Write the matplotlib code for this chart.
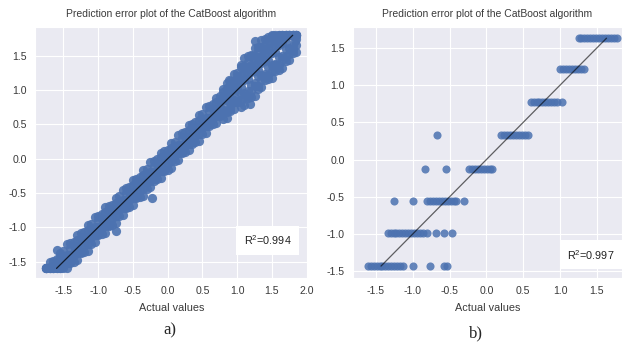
import matplotlib
matplotlib.use("Agg")
import matplotlib.pyplot as plt
import seaborn as sns
import numpy as np

# ---------------- data: panel a (dense cloud along the diagonal) ----------------
actual_a = [-1.75, -1.70, -1.65, -1.60, -1.55, -1.50, -1.45, -1.40, -1.35, -1.30,
            -1.25, -1.20, -1.15, -1.10, -1.05, -1.00, -0.95, -0.90, -0.85, -0.80,
            -0.75, -0.70, -0.65, -0.60, -0.55, -0.50, -0.45, -0.40, -0.35, -0.30,
            -0.25, -0.20, -0.15, -0.10, -0.05, 0.00, 0.05, 0.10, 0.15, 0.20,
            0.25, 0.30, 0.35, 0.40, 0.45, 0.50, 0.55, 0.60, 0.65, 0.70,
            0.75, 0.80, 0.85, 0.90, 0.95, 1.00, 1.05, 1.10, 1.15, 1.20,
            1.25, 1.30, 1.35, 1.40, 1.45, 1.50, 1.55, 1.60, 1.65, 1.70,
            1.75, 1.80, 1.85]

pred_a_row1 = [-1.60, -1.60, -1.60, -1.60, -1.60, -1.60, -1.60, -1.52, -1.50, -1.48,
               -1.38, -1.36, -1.34, -1.24, -1.22, -1.12, -1.10, -1.08, -0.98, -0.96,
               -0.94, -0.84, -0.82, -0.72, -0.70, -0.68, -0.58, -0.56, -0.54, -0.44,
               -0.42, -0.32, -0.30, -0.28, -0.18, -0.16, -0.14, -0.04, -0.02, 0.08,
               0.10, 0.12, 0.22, 0.24, 0.26, 0.36, 0.38, 0.48, 0.50, 0.52,
               0.62, 0.58, 0.60, 0.70, 0.72, 0.82, 0.76, 0.78, 0.88, 0.90,
               0.92, 1.02, 1.04, 1.14, 1.16, 1.18, 1.28, 1.30, 1.32, 1.42,
               1.44, 1.54, 1.56]
pred_a_row2 = [-1.60, -1.60, -1.60, -1.60, -1.60, -1.54, -1.52, -1.50, -1.40, -1.38,
               -1.36, -1.26, -1.24, -1.14, -1.12, -1.10, -1.00, -0.98, -0.96, -0.86,
               -0.84, -0.74, -0.72, -0.70, -0.60, -0.58, -0.56, -0.46, -0.44, -0.34,
               -0.32, -0.30, -0.20, -0.18, -0.16, -0.06, -0.04, 0.06, 0.08, 0.10,
               0.20, 0.22, 0.24, 0.34, 0.36, 0.46, 0.48, 0.50, 0.60, 0.62,
               0.64, 0.71, 0.73, 0.83, 0.85, 0.87, 0.94, 0.96, 0.98, 1.08,
               1.10, 1.20, 1.22, 1.24, 1.34, 1.36, 1.38, 1.48, 1.50, 1.60,
               1.62, 1.64, 1.74]
pred_a_row3 = [-1.60, -1.60, -1.60, -1.56, -1.54, -1.52, -1.42, -1.40, -1.38, -1.28,
               -1.26, -1.16, -1.14, -1.12, -1.02, -1.00, -0.98, -0.88, -0.86, -0.76,
               -0.74, -0.72, -0.62, -0.60, -0.58, -0.48, -0.46, -0.36, -0.34, -0.32,
               -0.22, -0.20, -0.18, -0.08, -0.06, 0.04, 0.06, 0.08, 0.18, 0.20,
               0.22, 0.32, 0.34, 0.44, 0.46, 0.48, 0.58, 0.60, 0.62, 0.72,
               0.74, 0.84, 0.86, 0.88, 0.98, 1.00, 1.04, 1.14, 1.16, 1.26,
               1.28, 1.30, 1.40, 1.42, 1.44, 1.54, 1.56, 1.66, 1.68, 1.70,
               1.80, 1.80, 1.80]
pred_a_row4 = [-1.60, -1.58, -1.56, -1.54, -1.44, -1.42, -1.40, -1.30, -1.28, -1.18,
               -1.16, -1.14, -1.04, -1.02, -1.00, -0.90, -0.88, -0.78, -0.76, -0.74,
               -0.64, -0.62, -0.60, -0.50, -0.48, -0.38, -0.36, -0.34, -0.24, -0.22,
               -0.20, -0.10, -0.08, 0.02, 0.04, 0.06, 0.16, 0.18, 0.20, 0.30,
               0.32, 0.42, 0.44, 0.46, 0.56, 0.58, 0.60, 0.70, 0.72, 0.82,
               0.84, 0.90, 1.00, 1.02, 1.04, 1.14, 1.22, 1.32, 1.34, 1.36,
               1.46, 1.48, 1.50, 1.60, 1.62, 1.72, 1.74, 1.76, 1.80, 1.80,
               1.80, 1.80, 1.80]
pred_a_row5 = [-1.60, -1.51, -1.49, -1.47, -1.37, -1.35, -1.25, -1.23, -1.21, -1.11,
               -1.09, -1.07, -0.97, -0.95, -0.85, -0.83, -0.81, -0.71, -0.69, -0.67,
               -0.57, -0.55, -0.45, -0.43, -0.41, -0.31, -0.29, -0.27, -0.17, -0.15,
               -0.05, -0.03, -0.01, 0.09, 0.11, 0.13, 0.23, 0.25, 0.35, 0.37,
               0.39, 0.49, 0.51, 0.53, 0.63, 0.65, 0.75, 0.77, 0.79, 0.89,
               0.91, 1.01, 1.11, 1.13, 1.23, 1.25, 1.37, 1.47, 1.49, 1.51,
               1.61, 1.63, 1.73, 1.75, 1.77, 1.80, 1.80, 1.80, 1.80, 1.80,
               1.80, 1.80, 1.80]

# extra rows for the wider upper part of the cloud
actual_a_top = [0.80, 0.85, 0.90, 0.95, 1.00, 1.05, 1.10, 1.15, 1.20, 1.25, 1.30,
                1.35, 1.40, 1.45, 1.50, 1.55, 1.60, 1.65, 1.70, 1.75, 1.80, 1.85]
pred_a_top_row1 = [0.66, 0.68, 0.74, 0.82, 0.82, 0.84, 0.90, 0.92, 0.98, 1.06, 1.06,
                   1.14, 1.20, 1.22, 1.28, 1.36, 1.36, 1.44, 1.50, 1.52, 1.58, 1.66]
pred_a_top_row2 = [0.89, 0.89, 0.97, 1.03, 1.05, 1.15, 1.23, 1.23, 1.31, 1.37, 1.39,
                   1.45, 1.53, 1.53, 1.61, 1.67, 1.69, 1.75, 1.80, 1.80, 1.80, 1.80]
pred_a_top_row3 = [0.97, 1.03, 1.11, 1.11, 1.19, 1.33, 1.35, 1.41, 1.49, 1.49, 1.57,
                   1.63, 1.65, 1.71, 1.79, 1.79, 1.80, 1.80, 1.80, 1.80, 1.80, 1.80]

outlier_actual_a = [-1.60, -0.75, -0.22, 0.88, 1.19, 1.26, 1.84]
outlier_pred_a = [-1.33, -1.06, -0.57, 1.15, 0.80, 1.71, 1.71]

# ---------------- data: panel b (discrete prediction levels) ----------------
levels_b = [1.63, 1.21, 0.77, 0.33, -0.12, -0.56, -0.99, -1.43]
actual_b_1 = [1.25, 1.29, 1.33, 1.37, 1.41, 1.45, 1.49, 1.53, 1.57, 1.61, 1.65, 1.69, 1.73, 1.77]
actual_b_2 = [1.00, 1.04, 1.08, 1.12, 1.16, 1.20, 1.24, 1.28, 1.32]
actual_b_3 = [0.60, 0.64, 0.68, 0.72, 0.76, 0.80, 0.84, 0.88, 0.92, 0.96, 1.02]
actual_b_4 = [-0.67, 0.20, 0.24, 0.28, 0.32, 0.36, 0.40, 0.44, 0.48, 0.52, 0.56]
actual_b_5 = [-0.83, -0.55, -0.23, -0.19, -0.15, -0.11, -0.07, -0.03, 0.01, 0.05, 0.07]
actual_b_6 = [-1.25, -0.99, -0.80, -0.76, -0.72, -0.68, -0.64, -0.60, -0.56, -0.52,
              -0.48, -0.44, -0.41, -0.31]
actual_b_7 = [-1.34, -1.30, -1.26, -1.22, -1.18, -1.14, -1.10, -1.06, -1.02, -0.98,
              -0.94, -0.90, -0.86, -0.80, -0.69, -0.58, -0.46]
actual_b_8 = [-1.61, -1.57, -1.53, -1.49, -1.45, -1.41, -1.37, -1.33, -1.29, -1.25,
              -1.21, -1.17, -1.13, -1.00, -0.77, -0.58, -0.54]

title_text = "Prediction error plot of the CatBoost algorithm"
xlabel_text = "Actual values"
r2_a = "0.994"
r2_b = "0.997"
ticks_a_x = [-1.5, -1.0, -0.5, 0.0, 0.5, 1.0, 1.5, 2.0]
ticks_ab_y = [-1.5, -1.0, -0.5, 0.0, 0.5, 1.0, 1.5]
ticks_b_x = [-1.5, -1.0, -0.5, 0.0, 0.5, 1.0, 1.5]

# ---------------- style ----------------
sns.set_style("darkgrid")
plt.rcParams["font.family"] = ["Liberation Sans", "DejaVu Sans"]
plt.rcParams["mathtext.default"] = "regular"
plt.rcParams["axes.unicode_minus"] = False

BLUE = "#4c72b0"
TXT = "#3a3a3a"
fig = plt.figure(figsize=(6.23, 3.47), dpi=100)
ax1 = fig.add_axes([35 / 623, 1 - 278 / 347, 273 / 623, 251 / 347])
ax2 = fig.add_axes([353 / 623, 1 - 278 / 347, 269 / 623, 251 / 347])

# panel a
rows_a = [pred_a_row1, pred_a_row2, pred_a_row3, pred_a_row4, pred_a_row5]
top_rows_a = [pred_a_top_row1, pred_a_top_row2, pred_a_top_row3]
xa = np.concatenate([np.asarray(actual_a)] * len(rows_a)
                    + [np.asarray(actual_a_top)] * len(top_rows_a)
                    + [np.asarray(outlier_actual_a)])
ya = np.concatenate([np.asarray(r) for r in rows_a]
                    + [np.asarray(r) for r in top_rows_a]
                    + [np.asarray(outlier_pred_a)])
ax1.scatter(xa, ya, s=44, color=BLUE, alpha=0.9, linewidths=0, zorder=2)
lo, hi = ya.min(), ya.max()
ax1.plot([lo, hi], [lo, hi], color="black", lw=0.9, alpha=0.75, zorder=3)
ax1.set_xlim(-1.91, 2.02)
ax1.set_ylim(-1.74, 1.92)
ax1.set_xticks(ticks_a_x)
ax1.set_yticks(ticks_ab_y)

# panel b
groups_b = [actual_b_1, actual_b_2, actual_b_3, actual_b_4,
            actual_b_5, actual_b_6, actual_b_7, actual_b_8]
xb = np.concatenate([np.asarray(g) for g in groups_b])
yb = np.concatenate([np.full(len(g), lv) for g, lv in zip(groups_b, levels_b)])
ax2.scatter(xb, yb, s=34, color=BLUE, alpha=0.85, linewidths=0, zorder=2)
lo, hi = yb.min(), yb.max()
ax2.plot([lo, hi], [lo, hi], color="black", lw=0.9, alpha=0.6, zorder=3)
ax2.set_xlim(-1.81, 1.84)
ax2.set_ylim(-1.59, 1.78)
ax2.set_xticks(ticks_b_x)
ax2.set_yticks(ticks_ab_y)

for ax, r2, pos in [(ax1, r2_a, (0.853, 0.151)), (ax2, r2_b, (0.885, 0.092))]:
    ax.set_title(title_text, fontsize=7.5, color=TXT, pad=7)
    ax.set_xlabel(xlabel_text, fontsize=7.8, color=TXT, labelpad=5)
    ax.tick_params(axis="both", labelsize=7.6, colors=TXT, length=0, pad=6)
    ax.text(pos[0], pos[1], "R$^2$=" + r2, transform=ax.transAxes, ha="center",
            va="center", fontsize=7.8, color="#222222", zorder=5,
            bbox=dict(boxstyle="square,pad=0.7", fc="white", ec="none"))

fig.text(170 / 623, 1 - 330 / 347, "a)", ha="center", va="center", fontsize=12,
         family=["Liberation Serif", "DejaVu Serif"])
fig.text(476 / 623, 1 - 333 / 347, "b)", ha="center", va="center", fontsize=12,
         family=["Liberation Serif", "DejaVu Serif"])

fig.savefig("out.png", dpi=100)
